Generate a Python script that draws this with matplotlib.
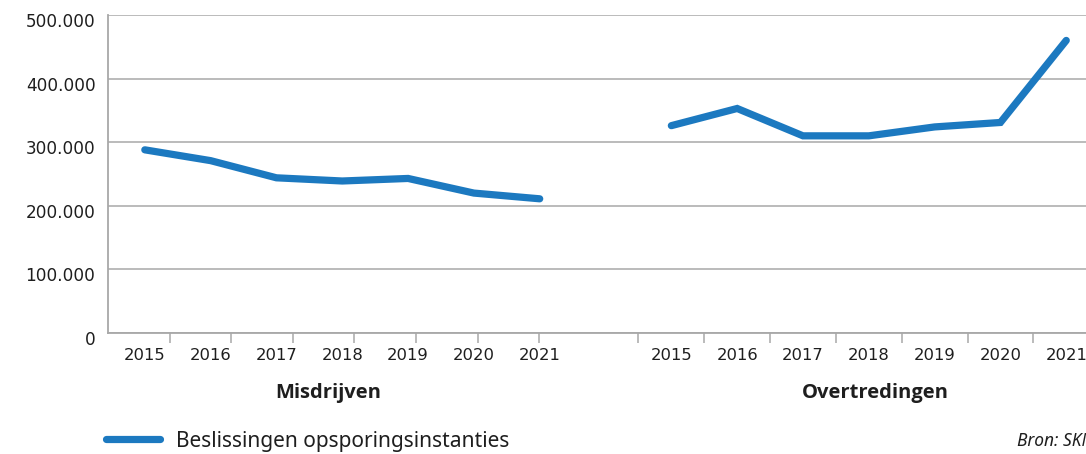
import numpy as np
import matplotlib
matplotlib.use('Agg')
import matplotlib.pyplot as plt
import matplotlib.transforms as mtransforms
from matplotlib.ticker import FuncFormatter

plt.rcParams['font.family'] = ['DejaVu Sans']

# data
jaren = ['2015', '2016', '2017', '2018', '2019', '2020', '2021']
groepen = ['Misdrijven', 'Overtredingen']
misdrijven = [288000, 271000, 244000, 239000, 243000, 220000, 211000]
overtredingen = [326000, 353000, 310000, 310000, 324000, 331000, 460000]
reeks = 'Beslissingen opsporingsinstanties'
bron = 'Bron: SKM'

blauw = '#1c79c0'
grijs = '#a8a8a8'
tekst = '#1e1e1e'

# posities: groep 1 op 0..6, lege plek, groep 2 op 8..14
x1 = np.arange(len(jaren))
x2 = x1 + len(jaren) + 1
x = np.concatenate([x1, [np.nan], x2])
y = np.concatenate([misdrijven, [np.nan], overtredingen])

fig = plt.figure(figsize=(10.86, 4.54), dpi=100)
ax = fig.add_axes([0.0994, 0.2665, 0.9006, 0.7005])

ax.plot(x, y, color=blauw, lw=5.2, solid_capstyle='round',
        solid_joinstyle='miter', label=reeks, zorder=3)

ax.set_ylim(0, 500000)
ax.set_xlim(-0.56, 14.3)
ax.set_yticks(np.arange(0, 500001, 100000))
ax.yaxis.set_major_formatter(FuncFormatter(lambda v, p: f'{int(v):,}'.replace(',', '.')))
ax.grid(axis='y', color=grijs, lw=1.1)
ax.set_axisbelow(True)

for s in ['top', 'right']:
    ax.spines[s].set_visible(False)
for s in ['left', 'bottom']:
    ax.spines[s].set_color(grijs)
    ax.spines[s].set_linewidth(1.3)

ax.tick_params(axis='y', length=0, pad=9, labelsize=12.2, labelcolor=tekst)
for lbl in ax.get_yticklabels():
    lbl.set_transform(lbl.get_transform() +
                      mtransforms.ScaledTranslation(0, -5 / 100, fig.dpi_scale_trans))

ax.set_xticks(np.concatenate([x1, x2]))
ax.set_xticklabels(jaren + jaren)
ax.tick_params(axis='x', which='major', length=0, pad=11, labelsize=11.8, labelcolor=tekst)

# streepjes tussen de categorieen
ticks1 = np.linspace(0.38, 5.99, len(jaren))
ticks2 = x2 - 0.5
ax.set_xticks(np.concatenate([ticks1, ticks2]), minor=True)
ax.tick_params(axis='x', which='minor', length=7, width=1.1, color=grijs, direction='out')

# groepnamen
trans = mtransforms.blended_transform_factory(ax.transData, fig.transFigure)
vet = ['Open Sans', 'DejaVu Sans']
ax.text(2.78, 1 - 393 / 454, groepen[0], transform=trans, ha='center', va='center',
        fontsize=14.5, fontweight='bold', family=vet, color=tekst)
ax.text(11.1, 1 - 393 / 454, groepen[1], transform=trans, ha='center', va='center',
        fontsize=14.5, fontweight='bold', family=vet, color=tekst)

leg = fig.legend(loc='center left', bbox_to_anchor=(0.08, 1 - 441 / 454), frameon=False,
                 prop={'family': ['Noto Sans', 'DejaVu Sans'], 'size': 15},
                 handlelength=2.6, handletextpad=0.8)
for t in leg.get_texts():
    t.set_color(tekst)

fig.text(1017 / 1086, 1 - 441 / 454, bron, ha='left', va='center', fontsize=12.5,
         style='italic', family=['Noto Sans', 'DejaVu Sans'], color=tekst)

fig.savefig('out.png', dpi=100)
